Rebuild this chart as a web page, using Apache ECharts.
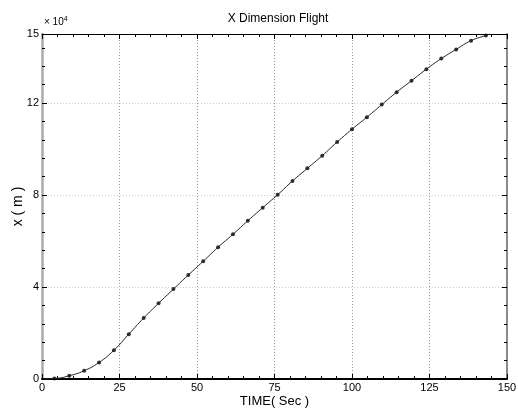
<!DOCTYPE html>
<html>
<head>
<meta charset="utf-8">
<script src="https://cdn.jsdelivr.net/npm/echarts@6/dist/echarts.min.js"></script>
<style>
html,body{margin:0;padding:0;background:#fff;}
#chart{width:518px;height:409px;}
</style>
</head>
<body>
<div id="chart"></div>
<script>
// Data (x in units of 10^4 m)
const markerTime = [4, 8.8, 13.6, 18.4, 23.2, 28, 32.8, 37.6, 42.4, 47.2, 52, 56.8, 61.6, 66.4, 71.2, 76, 80.8, 85.6, 90.4, 95.2, 100, 104.8, 109.6, 114.4, 119.2, 124, 128.8, 133.6, 138.4, 143.2];
const markerX = [0.02, 0.14, 0.36, 0.72, 1.25, 1.95, 2.65, 3.29, 3.91, 4.52, 5.12, 5.73, 6.29, 6.88, 7.45, 8.01, 8.61, 9.16, 9.71, 10.30, 10.86, 11.38, 11.93, 12.47, 12.97, 13.47, 13.93, 14.33, 14.71, 14.94];
const lineStart = [0, 0];
const lineEnd = [144.5, 15.0];
const xTickStep = 25;
const yTickStep = 4;

const markerData = markerTime.map((t, i) => [t, markerX[i]]);
const lineData = [lineStart].concat(markerData, [lineEnd]);

const font = 'Liberation Sans, Arial, Helvetica, sans-serif';
const chart = echarts.init(document.getElementById('chart'), null, {renderer: 'canvas'});

function tick() { return {show: true, inside: true, length: 5, lineStyle: {color: '#000'}}; }
function minor() { return {show: true, splitNumber: 5, length: 3, lineStyle: {color: '#000'}}; }

chart.setOption({
  animation: false,
  backgroundColor: '#fff',
  title: {
    text: 'X Dimension Flight', left: 273, top: 8, textAlign: 'center',
    textStyle: {fontFamily: font, fontSize: 12, fontWeight: 'normal', color: '#000'}
  },
  grid: {left: 42, right: 11, top: 34, bottom: 30, containLabel: false, outerBoundsMode: 'none'},
  xAxis: [
    {
      type: 'value', min: 0, max: 150, interval: xTickStep, position: 'bottom',
      name: 'TIME( Sec )', nameLocation: 'middle', nameGap: 16, nameMoveOverlap: false,
      nameTextStyle: {fontFamily: font, fontSize: 13, color: '#000'},
      axisLine: {show: true, onZero: false, lineStyle: {color: '#000', width: 2}},
      axisTick: tick(), minorTick: minor(),
      axisLabel: {show: true, margin: 3, fontFamily: font, fontSize: 11, color: '#000'},
      splitLine: {show: true, lineStyle: {color: '#999', type: [1, 2], width: 1}}
    },
    {
      type: 'value', min: 0, max: 150, interval: xTickStep, position: 'top',
      axisLine: {show: true, onZero: false, lineStyle: {color: '#000', width: 1}},
      axisTick: tick(), minorTick: minor(),
      axisLabel: {show: false},
      splitLine: {show: false}
    }
  ],
  yAxis: [
    {
      type: 'value', min: 0, max: 15, interval: yTickStep, position: 'left',
      name: 'x ( m )', nameLocation: 'middle', nameGap: 17, nameRotate: 90, nameMoveOverlap: false,
      nameTextStyle: {fontFamily: font, fontSize: 14, color: '#000'},
      axisLine: {show: true, onZero: false, lineStyle: {color: '#aaa', width: 2.5}},
      axisTick: tick(), minorTick: minor(),
      axisLabel: {show: true, margin: 3, fontFamily: font, fontSize: 11, color: '#000'},
      splitLine: {show: true, lineStyle: {color: '#ccc', type: [1, 2], width: 1}}
    },
    {
      type: 'value', min: 0, max: 15, interval: yTickStep, position: 'right',
      axisLine: {show: true, onZero: false, lineStyle: {color: '#888', width: 2}},
      axisTick: tick(), minorTick: minor(),
      axisLabel: {show: false},
      splitLine: {show: false}
    }
  ],
  graphic: [{
    type: 'text', left: 44, top: 16,
    style: {
      text: '{a|× 10}{b|4}',
      rich: {
        a: {fontFamily: font, fontSize: 10, fill: '#000'},
        b: {fontFamily: font, fontSize: 7, fill: '#000', verticalAlign: 'top', padding: [0, 0, 6, 0]}
      }
    }
  }],
  series: [
    {
      type: 'line', xAxisIndex: 0, yAxisIndex: 0, data: lineData,
      smooth: true, symbol: 'none',
      lineStyle: {color: '#222', width: 1}
    },
    {
      type: 'scatter', xAxisIndex: 0, yAxisIndex: 0, data: markerData,
      symbol: 'circle', symbolSize: 4,
      itemStyle: {color: '#000'}
    }
  ]
});
</script>
</body>
</html>
